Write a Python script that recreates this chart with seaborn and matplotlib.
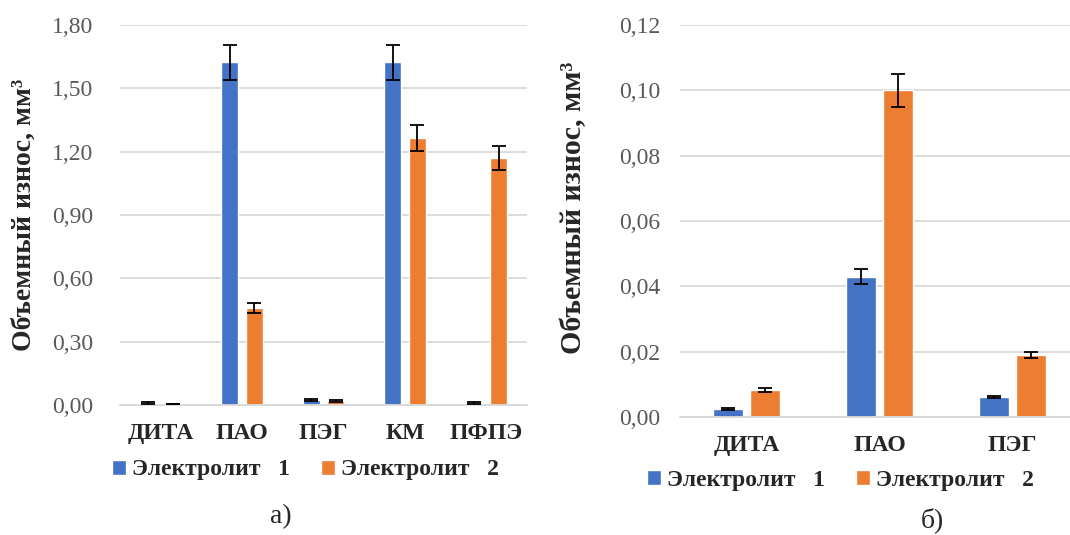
import numpy as np
import pandas as pd
import matplotlib
matplotlib.use("Agg")
import matplotlib.pyplot as plt
import seaborn as sns
from matplotlib.ticker import FuncFormatter

sns.set_theme(style="white")
plt.rcParams['font.family'] = ['Liberation Serif', 'DejaVu Serif']

# Panel a data
cats_a = ["ДИТА", "ПАО", "ПЭГ", "КМ", "ПФПЭ"]
e1_a = [0.010, 1.623, 0.025, 1.623, 0.010]
e2_a = [0.005, 0.460, 0.020, 1.263, 1.170]
e1_a_err = [0.004, 0.083, 0.004, 0.083, 0.004]
e2_a_err = [0.002, 0.025, 0.004, 0.062, 0.058]

# Panel b data
cats_b = ["ДИТА", "ПАО", "ПЭГ"]
e1_b = [0.0025, 0.043, 0.006]
e2_b = [0.0082, 0.100, 0.019]
e1_b_err = [0.0003, 0.0023, 0.0003]
e2_b_err = [0.0006, 0.0050, 0.0009]

series = ["Электролит   1", "Электролит   2"]
palette = ["#4472C4", "#ED7D31"]

def make_df(cats, v1, v2, r1, r2):
    rows = []
    for c, a, ea in zip(cats, v1, r1):
        rows.append((c, series[0], a, ea))
    for c, b, eb in zip(cats, v2, r2):
        rows.append((c, series[1], b, eb))
    return pd.DataFrame(rows, columns=["cat", "ser", "val", "err"])

W, H = 1070, 535
fig = plt.figure(figsize=(10.7, 5.35), dpi=100)
ax_a = fig.add_axes([120 / W, 1 - 405 / H, 407 / W, 380 / H])
ax_b = fig.add_axes([680 / W, 1 - 417 / H, 399 / W, 392 / H])

def draw(ax, df, cats, width, gap, ymax, step, ypad, ylabsize):
    sns.barplot(data=df, x="cat", y="val", hue="ser", order=cats,
                hue_order=series, palette=palette, width=width, gap=gap,
                errorbar=None, ax=ax, saturation=1, legend=True, zorder=2)
    for s, cont in zip(series, ax.containers):
        sub = df[df.ser == s].set_index("cat").loc[cats]
        xs = [p.get_x() + p.get_width() / 2 for p in cont.patches]
        ax.errorbar(xs, sub["val"].values, yerr=sub["err"].values, fmt="none",
                    ecolor="black", elinewidth=1.3, capsize=5, capthick=1.3, zorder=3)
    ax.set_ylim(0, ymax)
    ax.set_yticks(np.arange(0, ymax + step / 2, step))
    ax.yaxis.set_major_formatter(FuncFormatter(lambda v, p: "{:.2f}".format(v).replace(".", ",")))
    ax.grid(axis="y", color="#D9D9D9", linewidth=1.3, zorder=0)
    ax.set_axisbelow(True)
    for sp in ["top", "right", "left"]:
        ax.spines[sp].set_visible(False)
    ax.spines["bottom"].set_color("#D9D9D9")
    ax.spines["bottom"].set_linewidth(1.3)
    ax.tick_params(axis="y", length=0, labelsize=17, labelcolor="#595959", pad=ypad)
    ax.tick_params(axis="x", length=0, labelsize=17, pad=13)
    for t in ax.get_xticklabels():
        t.set_fontweight("bold")
    ax.set_xlabel("")
    ax.set_ylabel("Объемный износ, мм³", fontsize=ylabsize, fontweight="bold")
    ax.set_xlim(-0.5, len(cats) - 0.5)

draw(ax_a, make_df(cats_a, e1_a, e2_a, e1_a_err, e2_a_err), cats_a, 0.60, 0.30, 1.80, 0.30, 19, 20)
draw(ax_b, make_df(cats_b, e1_b, e2_b, e1_b_err, e2_b_err), cats_b, 0.556, 0.19, 0.12, 0.02, 14, 21.5)

ax_a.yaxis.set_label_coords(-0.204, 0.5)
ax_b.yaxis.set_label_coords(-0.233, 0.533)

for ax, anchor in [(ax_a, (0.455, -0.171)), (ax_b, (0.402, -0.161))]:
    ax.legend(loc="center", bbox_to_anchor=anchor, ncol=2, frameon=False,
              prop={"size": 17, "weight": "bold"}, handlelength=0.6, handleheight=0.6,
              handletextpad=0.25, columnspacing=1.3, borderaxespad=0, borderpad=0)

fig.text(281 / W, 1 - 517 / H, "а)", fontsize=20, ha="center", va="center")
fig.text(932 / W, 1 - 520 / H, "б)", fontsize=20, ha="center", va="center")

fig.savefig("out.png", dpi=100, facecolor="white")
